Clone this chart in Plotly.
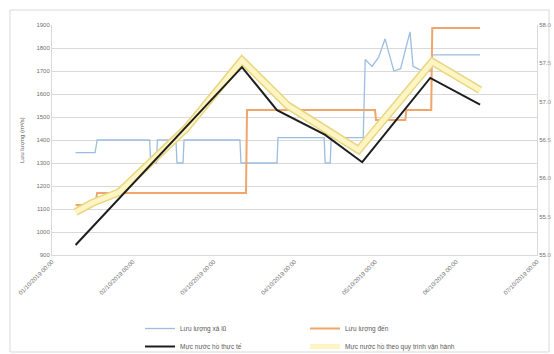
import plotly.graph_objects as go
from datetime import datetime, timedelta

BASE = datetime(2019, 10, 1)

# Blue: discharge (hours from base, m3/s)
blue_h = [7, 12.8, 13.4, 29, 29.3, 31, 31.3, 36.8, 37.1, 38.9, 39.2, 55.8, 56.1, 66.8, 67.1,
          80.8, 81.1, 82.6, 82.9, 92.4, 93, 95, 97, 98.9, 100, 101.5, 103.5, 106.3, 107.2,
          110, 112.5, 112.9, 127.1]
blue_v = [1345, 1345, 1400, 1400, 1300, 1300, 1400, 1400, 1300, 1300, 1400, 1400, 1300, 1300, 1410,
          1410, 1300, 1300, 1410, 1410, 1750, 1720, 1760, 1840, 1780, 1700, 1710, 1870, 1720,
          1700, 1700, 1770, 1770]

# Orange: inflow (hours, m3/s)
orange_h = [7, 12.8, 13.4, 57.6, 57.9, 95.9, 96.2, 104.9, 105.2, 112.6, 112.9, 127.1]
orange_v = [1117, 1117, 1170, 1170, 1530, 1530, 1487, 1487, 1530, 1530, 1887, 1887]

# Black: actual reservoir level (hours, m)
black_h = [7, 56.4, 66.8, 81, 92.1, 112.3, 127.1]
black_v = [55.13, 57.45, 56.89, 56.57, 56.21, 57.31, 56.96]

# Yellow: reservoir level per operating procedure (hours, m)
yellow_h = [7, 12, 20, 40, 56.4, 70, 91, 112.9, 127.1]
yellow_v = [55.56, 55.68, 55.82, 56.66, 57.54, 56.95, 56.37, 57.52, 57.15]

names = ["Lưu lượng xả lũ", "Lưu lượng đến", "Mực nước hồ thực tế",
         "Mực nước hồ theo quy trình vận hành"]

def dt(hs):
    return [BASE + timedelta(hours=h) for h in hs]

fig = go.Figure()
fig.add_trace(go.Scatter(x=dt(yellow_h), y=yellow_v, yaxis="y2", mode="lines",
                         line=dict(color="#e6d680", width=8), showlegend=False,
                         hoverinfo="skip"))
fig.add_trace(go.Scatter(x=dt(yellow_h), y=yellow_v, yaxis="y2", mode="lines",
                         line=dict(color="#fff5c4", width=5), name=names[3],
                         legend="legend2", legendrank=2))
fig.add_trace(go.Scatter(x=dt(blue_h), y=blue_v, mode="lines",
                         line=dict(color="#9dbde0", width=1.3), name=names[0],
                         legend="legend", legendrank=1))
fig.add_trace(go.Scatter(x=dt(orange_h), y=orange_v, mode="lines",
                         line=dict(color="#f0a56a", width=2), name=names[1],
                         legend="legend", legendrank=2))
fig.add_trace(go.Scatter(x=dt(black_h), y=black_v, yaxis="y2", mode="lines",
                         line=dict(color="#1e1e1e", width=2), name=names[2],
                         legend="legend2", legendrank=1))

W, H = 554, 354
L, R, T, B = 52, 537, 25, 255
pw, ph = R - L, B - T
def px(x): return (x - L) / pw
def py(y): return (B - y) / ph

tickfont = dict(size=6, color="#6f6f6f", family="Liberation Sans")
legfont = dict(size=6.5, color="#595959", family="Liberation Sans")
fig.update_layout(
    width=W, height=H,
    margin=dict(l=L, r=W - R, t=T, b=H - B, autoexpand=False),
    paper_bgcolor="white", plot_bgcolor="white",
    font=dict(family="Liberation Sans", size=7, color="#595959"),
    xaxis=dict(type="date", range=[BASE, BASE + timedelta(days=6)],
               tick0=BASE, dtick=86400000, tickformat="%d/%m/%Y %H:%M",
               tickangle=-45, tickfont=tickfont, showgrid=False,
               showline=True, linecolor="#d9d9d9", ticks="", automargin=False),
    yaxis=dict(range=[900, 1900], dtick=100, tickfont=tickfont, showgrid=True,
               gridcolor="#d9d9d9", gridwidth=1, showline=True, linecolor="#d9d9d9",
               zeroline=False, automargin=False),
    yaxis2=dict(range=[55, 58], dtick=0.5, tickformat=".1f", overlaying="y", side="right",
                tickfont=tickfont, showgrid=False, showline=True, linecolor="#d9d9d9",
                zeroline=False, automargin=False),
    legend=dict(orientation="h", x=px(140), y=py(314), xanchor="left", yanchor="top",
                entrywidth=120, font=legfont, traceorder="normal",
                bgcolor="rgba(0,0,0,0)"),
    legend2=dict(orientation="h", x=px(140), y=py(332), xanchor="left", yanchor="top",
                 entrywidth=120, font=legfont, traceorder="normal",
                 bgcolor="rgba(0,0,0,0)"),
    annotations=[dict(text="Lưu lượng (m³/s)", x=px(17), y=0.5, xref="paper", yref="paper",
                      textangle=-90, showarrow=False, font=dict(size=6, color="#595959"))],
    shapes=[dict(type="rect", xref="paper", yref="paper", x0=px(10), x1=px(549),
                 y0=py(352), y1=py(10), line=dict(color="#d9d9d9", width=1))],
)

fig.write_html("out.html")
